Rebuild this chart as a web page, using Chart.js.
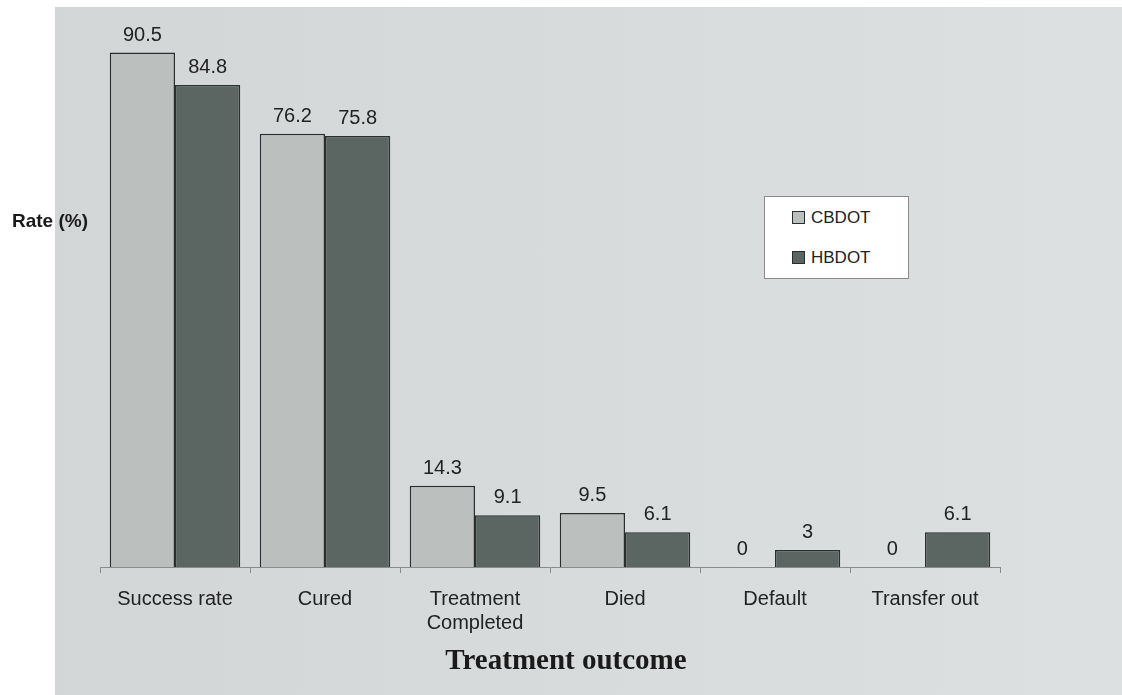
<!DOCTYPE html>
<html>
<head>
<meta charset="utf-8">
<script src="https://cdn.jsdelivr.net/npm/chart.js@4.4.1/dist/chart.umd.min.js"></script>
<style>
  html, body { margin: 0; padding: 0; background: #fff; }
  #wrap { position: relative; width: 1122px; height: 695px; overflow: hidden; }
  #paper {
    position: absolute; left: 55px; top: 7px; right: 0; bottom: 0;
    background: linear-gradient(to right, #d3d6d7, #dde0e1);
  }
  #chart { position: absolute; left: 0; top: 0; }
  .ylabel {
    position: absolute; left: 12px; top: 210px;
    font: bold 19px "Liberation Sans", Arial, sans-serif; color: #1a1a1a;
  }
  .xtitle {
    position: absolute; left: 0; width: 1132px; top: 643px; text-align: center;
    font: bold 29px "Liberation Serif", "Times New Roman", serif; color: #1a1a1a;
  }
  #legend {
    position: absolute; left: 764px; top: 196px; width: 143px; height: 81px;
    background: #fff; border: 1px solid #8a8c8c;
  }
  .item {
    position: absolute; left: 27px; height: 20px;
    font: 17px "Liberation Sans", Arial, sans-serif; color: #222; line-height: 20px;
  }
  .item span.sw {
    display: inline-block; width: 11px; height: 11px; border: 1px solid #2a2f2e;
    vertical-align: -1px; margin-right: 6px;
  }
</style>
</head>
<body>
<div id="wrap">
  <div id="paper"></div>
  <canvas id="chart" width="1122" height="695"></canvas>
  <div class="ylabel">Rate (%)</div>
  <div class="xtitle">Treatment outcome</div>
  <div id="legend"></div>
</div>
<script>
const categories = ["Success rate", "Cured", ["Treatment", "Completed"], "Died", "Default", "Transfer out"];
const seriesNames = ["CBDOT", "HBDOT"];
const cbdot = [90.5, 76.2, 14.3, 9.5, 0, 0];
const hbdot = [84.8, 75.8, 9.1, 6.1, 3, 6.1];
const fills = ["#bbbfbe", "#5b6663"];

// numbers printed above each bar
const valueLabels = {
  id: "valueLabels",
  afterDatasetsDraw(chart) {
    const c = chart.ctx;
    c.save();
    c.font = '20px "Liberation Sans", Arial, sans-serif';
    c.fillStyle = "#222";
    c.textAlign = "center";
    c.textBaseline = "alphabetic";
    chart.data.datasets.forEach((ds, i) => {
      chart.getDatasetMeta(i).data.forEach((bar, j) => {
        c.fillText(String(ds.data[j]), bar.x, bar.y - 12);
      });
    });
    c.restore();
  }
};

const ctx = document.getElementById("chart").getContext("2d");
const chart = new Chart(ctx, {
  type: "bar",
  data: {
    labels: categories,
    datasets: [
      { label: seriesNames[0], data: cbdot, backgroundColor: fills[0] },
      { label: seriesNames[1], data: hbdot, backgroundColor: fills[1] }
    ]
  },
  options: {
    responsive: false,
    animation: false,
    categoryPercentage: 0.87,
    barPercentage: 1.0,
    datasets: {
      bar: {
        borderColor: "#2a2f2e",
        borderWidth: c => (c.raw === 0 ? 0 : 1.5),
        borderSkipped: "bottom"
      }
    },
    layout: { padding: { left: 100, right: 122, top: 44, bottom: 33 } },
    plugins: { legend: { display: false }, tooltip: { enabled: false } },
    scales: {
      x: {
        afterFit: s => { s.height = 95; },
        grid: { drawOnChartArea: false, drawTicks: true, tickLength: 6, color: "#8a8c8c", offset: true },
        border: { display: true, color: "#8a8c8c", width: 1 },
        ticks: {
          color: "#222",
          padding: 14,
          font: { family: '"Liberation Sans", Arial, sans-serif', size: 20 },
          maxRotation: 0,
          autoSkip: false
        }
      },
      y: { display: false, min: 0, max: 92 }
    }
  },
  plugins: [valueLabels]
});

// legend built from the series names
const legend = document.getElementById("legend");
seriesNames.forEach((name, i) => {
  const d = document.createElement("div");
  d.className = "item";
  d.style.top = (11 + i * 40) + "px";
  d.innerHTML = '<span class="sw" style="background:' + fills[i] + '"></span>' + name;
  legend.appendChild(d);
});
</script>
</body>
</html>
